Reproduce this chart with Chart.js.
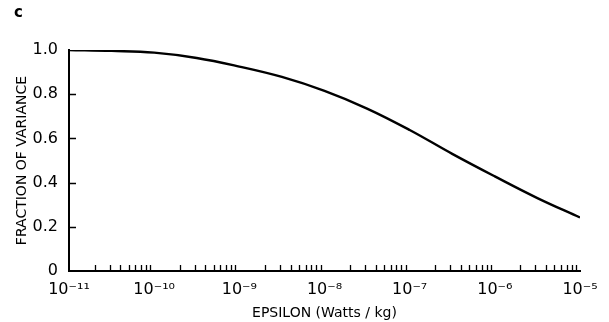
<!DOCTYPE html>
<html>
<head>
<meta charset="utf-8">
<script src="https://cdn.jsdelivr.net/npm/chart.js@4.4.0/dist/chart.umd.min.js"></script>
<style>
    html, body { margin: 0; padding: 0; background: #fff; }
    #wrap { width: 609px; height: 322px; }
</style>
</head>
<body>
<div id="wrap"><canvas id="variance-chart"></canvas></div>
<script>
// 데이터
const epsilon = [1e-11, 3.16e-11, 1e-10, 3.16e-10, 1e-9, 3.16e-9, 1e-8, 3.16e-8, 1e-7, 3.16e-7, 1e-6, 3.16e-6, 1e-5];
const fraction = [1.0, 0.996, 0.988, 0.964, 0.925, 0.878, 0.815, 0.735, 0.638, 0.53, 0.428, 0.33, 0.242];
const xTicks = [1e-11, 1e-10, 1e-9, 1e-8, 1e-7, 1e-6, 1e-5];
const xTickLabels = ['10⁻¹¹', '10⁻¹⁰', '10⁻⁹', '10⁻⁸', '10⁻⁷', '10⁻⁶', '10⁻⁵'];
const yTicks = [0, 0.2, 0.4, 0.6, 0.8, 1.0];

function varianceChart() {
    const ctx = document.getElementById('variance-chart').getContext('2d');
    const font = "'DejaVu Sans', sans-serif";

    // 안쪽으로 그려지는 눈금
    const innerTicks = {
        id: 'innerTicks',
        afterDraw(chart) {
            const c = chart.ctx;
            const area = chart.chartArea;
            const x = chart.scales.x;
            const y = chart.scales.y;
            c.save();
            c.strokeStyle = '#000';
            c.lineWidth = 1.3;
            c.beginPath();
            yTicks.forEach(v => {
                if (v === 0 || v === 1) return;
                const py = Math.round(y.getPixelForValue(v)) + 0.5;
                c.moveTo(area.left, py);
                c.lineTo(area.left + 7, py);
            });
            for (let d = -11; d < -5; d++) {
                for (let m = 2; m <= 9; m++) {
                    const px = Math.round(x.getPixelForValue(m * Math.pow(10, d))) + 0.5;
                    c.moveTo(px, area.bottom);
                    c.lineTo(px, area.bottom - 6);
                }
            }
            c.stroke();
            c.restore();
        }
    };

    new Chart(ctx, {
        type: 'line',
        data: {
            datasets: [{
                data: epsilon.map((e, i) => ({ x: e, y: fraction[i] })),
                borderColor: '#000',
                borderWidth: 2.4,
                pointRadius: 0,
                tension: 0.4,
                fill: false
            }]
        },
        options: {
            responsive: true,
            maintainAspectRatio: false,
            animation: false,
            layout: { padding: { left: 14, right: 29, top: 0, bottom: 0 } },
            plugins: {
                legend: { display: false },
                tooltip: { enabled: false },
                title: {
                    display: true,
                    text: 'c',
                    align: 'start',
                    color: '#000',
                    font: { family: font, size: 15, weight: 'bold' },
                    padding: { top: 4, bottom: 28 }
                }
            },
            scales: {
                x: {
                    type: 'logarithmic',
                    min: 1e-11,
                    max: 1e-5,
                    afterBuildTicks: (scale) => {
                        scale.ticks = xTicks.map(v => ({ value: v }));
                    },
                    afterFit: (scale) => { scale.height = 51; },
                    ticks: {
                        color: '#000',
                        autoSkip: false,
                        maxRotation: 0,
                        padding: 9,
                        font: { family: font, size: 16 },
                        callback: (v) => {
                            const i = xTicks.findIndex(t => Math.abs(t - v) / t < 1e-6);
                            return i >= 0 ? xTickLabels[i] : '';
                        }
                    },
                    grid: { display: true, drawOnChartArea: false, drawTicks: false },
                    border: { display: true, color: '#000', width: 2 },
                    title: {
                        display: true,
                        text: 'EPSILON (Watts / kg)',
                        color: '#000',
                        font: { family: font, size: 14 },
                        padding: { top: 0, bottom: 0 }
                    }
                },
                y: {
                    min: 0,
                    max: 1,
                    afterBuildTicks: (scale) => {
                        scale.ticks = yTicks.map(v => ({ value: v }));
                    },
                    afterFit: (scale) => { scale.width = 55; },
                    ticks: {
                        color: '#000',
                        padding: 11,
                        font: { family: font, size: 16 },
                        callback: (v) => v === 0 ? '0' : v.toFixed(1)
                    },
                    grid: { display: true, drawOnChartArea: false, drawTicks: false },
                    border: { display: true, color: '#000', width: 2 },
                    title: {
                        display: true,
                        text: 'FRACTION OF VARIANCE',
                        color: '#000',
                        font: { family: font, size: 14 },
                        padding: { top: 0, bottom: 4 }
                    }
                }
            }
        },
        plugins: [innerTicks]
    });
}

varianceChart();
</script>
</body>
</html>
